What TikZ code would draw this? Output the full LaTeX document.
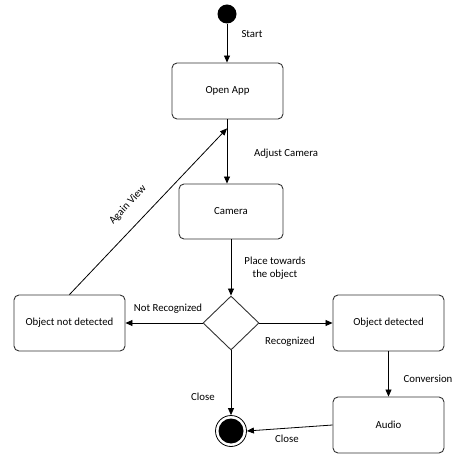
\documentclass[tikz,border=0pt]{standalone}
\usepackage{fontspec}
\setmainfont{Carlito}
\usetikzlibrary{arrows.meta,shapes.geometric}
\tikzset{
  state/.style={draw=black!80, rounded corners=5pt, line width=0.9pt, fill=white,
    minimum width=111pt, minimum height=56pt, inner sep=0pt},
  choice/.style={draw=black!80, diamond, line width=0.9pt, minimum width=56pt,
    minimum height=54pt, inner sep=0pt, aspect=1},
  flow/.style={draw, line width=0.8pt, -{Triangle[length=7pt,width=6pt]}},
  lbl/.style={font=\fontsize{10.8}{13}\selectfont, inner sep=0pt, align=center}
}
\begin{document}
\begin{tikzpicture}[x=1pt, y=-1pt, every node/.style={font=\fontsize{10.8}{13}\selectfont}]
    \useasboundingbox (0,0) rectangle (471,470);

    % Initial and final states
    \node[circle, fill=black, minimum size=19pt, inner sep=0pt] (start) at (227,14) {};
    \node[circle, draw, line width=0.8pt, fill=white, minimum size=31pt, inner sep=0pt] (final) at (231,431) {};
    \fill (final.center) circle (12.5pt);

    % States
    \node[state] (openapp) at (227.5,91) {Open App};
    \node[state, minimum width=104pt, minimum height=55pt] (camera) at (231,211.5) {Camera};
    \node[choice] (check) at (231,323) {};
    \node[state] (notdet) at (69.5,323) {Object not detected};
    \node[state] (det) at (388.5,323) {Object detected};
    \node[state] (audio) at (388.5,425) {Audio};

    % Transitions
    \draw[flow] (start) -- (openapp.north -| start);
    \draw[flow] (openapp.south -| start) -- (camera.north -| start) coordinate[pos=0.14] (back);
    \draw[flow] (camera.south -| check) -- (check.north);
    \draw[flow] (check.west) -- (notdet.east);
    \draw[flow] (check.east) -- (det.east -| det.west);
    \draw[flow] (det.south) -- (audio.north);
    \draw[flow] (check.south) -- (final.north);
    \draw[flow] (audio.west) -- (final.east);
    \draw[flow] (notdet.north) -- (back);

    % Labels
    \node[lbl] (lstart) at (252,34) {Start};
    \node[lbl] (ladjust) at (286,154) {Adjust Camera};
    \node[lbl] (lplace) at (275,268) {Place towards\\the object};
    \node[lbl] (lnot) at (168,309) {Not Recognized};
    \node[lbl] (lrec) at (290,342) {Recognized};
    \node[lbl] (lconv) at (428,379) {Conversion};
    \node[lbl] (lclose1) at (203,397) {Close};
    \node[lbl] (lclose2) at (287,439) {Close};
    \node[lbl, rotate=47] (lagain) at (128,205) {Again View};
\end{tikzpicture}
\end{document}
